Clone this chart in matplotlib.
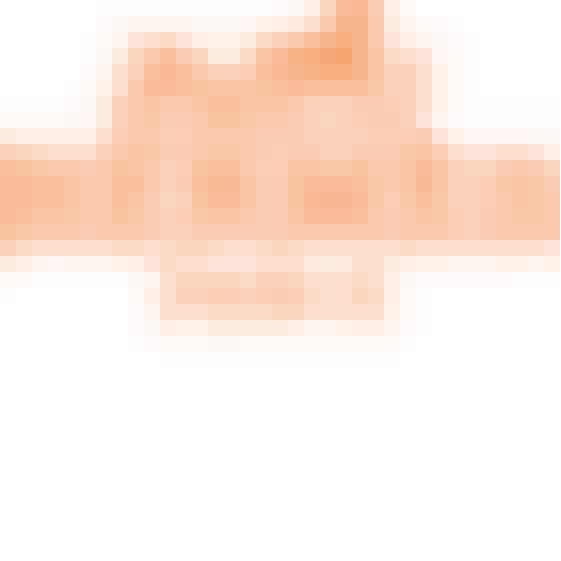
import numpy as np
import matplotlib
matplotlib.use("Agg")
import matplotlib.pyplot as plt
from matplotlib.colors import LinearSegmentedColormap

n_cols = 35
n_rows = 35

# intensity per cell (0 = white, 10 = strongest orange), row by row from top
row_00 = [0,0,0,0,0,0,0.15,0.15,0.15,0.15,0.15,0.15,0.15,0.15,0.15,0.15,0.15,0.2,0.4,1.0,2.5,5.5,6.0,3.5,1.0,0.3,0,0,0,0,0,0,0,0,0]
row_01 = [0,0,0,0,0,0,0.2,0.4,0.6,0.7,0.7,0.6,0.4,0.4,0.4,0.5,0.8,1.0,1.3,2.0,4.0,6.5,6.5,3.8,1.2,0.6,0.3,0.2,0.1,0,0,0,0,0,0]
row_02 = [0,0,0,0,0,0.1,0.3,0.7,1.5,2.0,2.2,1.5,1.0,0.8,0.8,1.2,2.2,3.0,4.0,5.0,6.5,8.0,6.5,3.8,1.5,1.0,0.7,0.4,0.2,0.05,0,0,0,0,0]
row_03 = [0,0,0,0,0,0.1,0.4,1.2,2.5,4.0,5.0,3.5,2.5,1.2,1.2,2.2,4.5,5.5,7.5,8.0,9.0,10.0,7.0,4.5,2.2,2.0,1.5,0.5,0.3,0.05,0,0,0,0,0]
row_04 = [0,0,0,0,0,0.2,0.6,1.8,3.0,5.0,6.0,5.0,4.0,2.8,2.8,3.2,5.0,6.0,7.0,7.5,8.0,8.0,6.8,4.5,2.8,2.8,2.0,0.8,0.3,0.05,0,0,0,0,0]
row_05 = [0,0,0,0,0.1,0.3,0.8,2.0,4.0,5.5,5.5,5.0,4.8,4.5,4.5,4.5,4.8,5.0,5.5,5.0,5.0,5.0,5.0,4.2,3.0,3.0,2.0,0.8,0.3,0.05,0,0,0,0,0]
row_06 = [0.1,0.1,0.1,0.1,0.2,0.4,1.2,2.8,4.0,4.5,4.0,3.8,4.5,5.2,5.2,4.5,4.5,4.5,4.0,3.0,2.8,3.0,3.5,3.5,3.2,3.0,1.8,0.8,0.3,0.05,0.05,0.05,0.05,0.05,0.05]
row_07 = [0.3,0.3,0.3,0.3,0.4,0.5,1.2,2.8,4.0,4.2,3.5,3.5,4.0,4.8,4.8,4.2,4.0,4.0,3.5,3.0,2.5,3.0,3.2,3.5,3.5,3.0,1.5,0.6,0.2,0.1,0.1,0.1,0.1,0.1,0.1]
row_08 = [1.2,1.0,1.0,1.0,1.0,1.0,1.8,3.2,4.0,4.0,3.2,3.2,3.8,4.0,4.0,3.8,3.5,3.5,3.5,3.0,2.8,3.0,3.0,3.2,3.3,3.3,3.5,1.5,0.8,0.5,0.5,0.5,0.5,0.4,0.4]
row_09 = [3.0,2.5,2.2,2.0,2.0,2.0,2.8,4.0,4.5,4.2,3.5,3.5,4.0,4.2,4.2,4.0,3.5,3.3,3.5,3.5,2.8,3.0,3.5,3.5,3.5,4.2,4.5,3.2,2.0,1.5,1.5,2.0,2.0,1.5,1.0]
row_10 = [5.0,4.8,4.2,4.0,4.0,3.5,4.0,4.8,4.6,4.0,3.0,3.3,4.8,5.2,5.0,4.0,3.3,3.3,4.5,4.5,4.2,4.2,4.8,4.0,3.8,4.5,5.5,4.5,3.0,2.5,2.5,3.5,4.0,3.5,2.5]
row_11 = [5.5,5.5,5.0,5.0,4.5,3.8,4.0,5.0,5.0,4.0,3.0,3.5,5.0,5.8,5.8,4.5,3.5,3.5,4.8,5.5,5.5,5.5,5.2,4.2,3.8,4.5,5.8,4.5,2.8,3.0,3.2,4.2,4.5,4.2,3.5]
row_12 = [5.5,5.5,5.2,5.2,4.5,3.8,4.0,5.0,4.5,3.5,2.5,3.0,4.8,5.5,5.5,4.5,3.5,3.5,4.8,6.0,6.2,6.2,5.5,4.2,3.2,4.2,5.0,4.2,2.8,2.8,3.2,4.0,4.5,4.2,4.0]
row_13 = [5.5,5.0,4.5,4.5,4.2,3.8,4.0,4.8,4.2,3.5,3.0,3.2,4.2,4.5,4.5,4.0,3.5,3.5,4.5,5.5,5.5,5.5,5.0,4.0,3.5,4.0,4.5,4.2,3.2,3.0,3.5,4.0,4.2,4.2,4.0]
row_14 = [4.8,4.2,3.8,3.8,3.8,3.5,3.8,4.0,4.0,3.5,3.0,3.0,3.5,3.5,3.5,3.5,3.5,3.5,4.0,4.0,3.8,3.8,3.8,3.8,3.5,4.0,4.0,3.8,3.2,3.0,3.5,3.8,3.8,3.8,3.8]
row_15 = [2.8,2.2,2.0,2.0,2.0,2.0,2.0,2.2,2.2,2.0,2.2,2.5,2.5,2.2,2.0,2.0,2.2,2.5,2.3,2.0,1.8,1.8,2.0,2.0,2.0,2.2,2.0,2.0,1.8,1.8,1.8,2.0,2.0,1.8,1.5]
row_16 = [1.2,1.0,0.6,0.5,0.6,0.6,0.6,0.8,1.0,1.5,2.2,2.0,1.8,1.5,1.5,1.5,1.8,1.8,1.8,1.3,1.2,1.3,1.8,1.8,1.2,1.0,0.8,0.8,0.6,0.6,0.6,0.8,0.8,0.6,0.8]
row_17 = [0.3,0.3,0.1,0.1,0.1,0.1,0.1,0.1,0.4,0.7,2.0,2.5,2.5,2.5,2.5,2.2,2.8,3.0,2.5,2.0,1.8,2.0,2.2,2.0,1.0,0.4,0.2,0.2,0.2,0.2,0.2,0.2,0.1,0.1,0.1]
row_18 = [0.05,0,0,0,0,0,0,0,0.3,1.0,2.0,2.8,3.0,3.2,3.2,3.0,3.3,3.6,3.2,2.2,2.0,2.0,2.5,2.2,1.0,0.3,0.05,0,0,0,0,0,0,0,0]
row_19 = [0,0,0,0,0,0,0,0,0.2,0.6,1.8,2.0,2.0,2.2,2.2,2.2,2.2,2.6,2.5,2.0,1.8,1.8,1.8,1.8,0.8,0.3,0.05,0,0,0,0,0,0,0,0]
row_20 = [0,0,0,0,0,0,0,0,0.2,0.4,1.0,0.8,0.8,1.2,1.2,1.2,1.2,1.2,1.0,0.7,0.7,0.8,1.0,1.0,0.6,0.2,0.05,0,0,0,0,0,0,0,0]
row_21 = [0,0,0,0,0,0,0,0,0.1,0.2,0.3,0.3,0.3,0.4,0.4,0.3,0.3,0.3,0.3,0.3,0.3,0.3,0.3,0.3,0.3,0.1,0,0,0,0,0,0,0,0,0]
row_22 = [0,0,0,0,0,0,0,0,0,0,0.1,0.05,0.05,0.05,0.05,0.1,0.15,0.15,0.1,0.05,0.05,0.1,0.1,0.1,0.05,0,0,0,0,0,0,0,0,0,0]

top_rows = [row_00, row_01, row_02, row_03, row_04, row_05, row_06, row_07,
            row_08, row_09, row_10, row_11, row_12, row_13, row_14, row_15,
            row_16, row_17, row_18, row_19, row_20, row_21, row_22]

grid = np.zeros((n_rows, n_cols))
grid[:len(top_rows), :] = np.array(top_rows)

cmap = LinearSegmentedColormap.from_list(
    "soft_orange",
    [(0.0, "#ffffff"), (0.25, "#fcd6c0"), (0.55, "#f9bc98"), (1.0, "#f6a470")])

fig = plt.figure(figsize=(5.61, 5.61), dpi=100)
ax = fig.add_axes([0, 0, 1, 1])
ax.imshow(grid, cmap=cmap, vmin=0, vmax=10, interpolation="nearest",
          extent=(0, n_cols, n_rows, 0), aspect="auto")
ax.set_xlim(0, 561 / 16)
ax.set_ylim(561 / 16, 0)
ax.axis("off")
fig.savefig("out.png", dpi=100, facecolor="white")
